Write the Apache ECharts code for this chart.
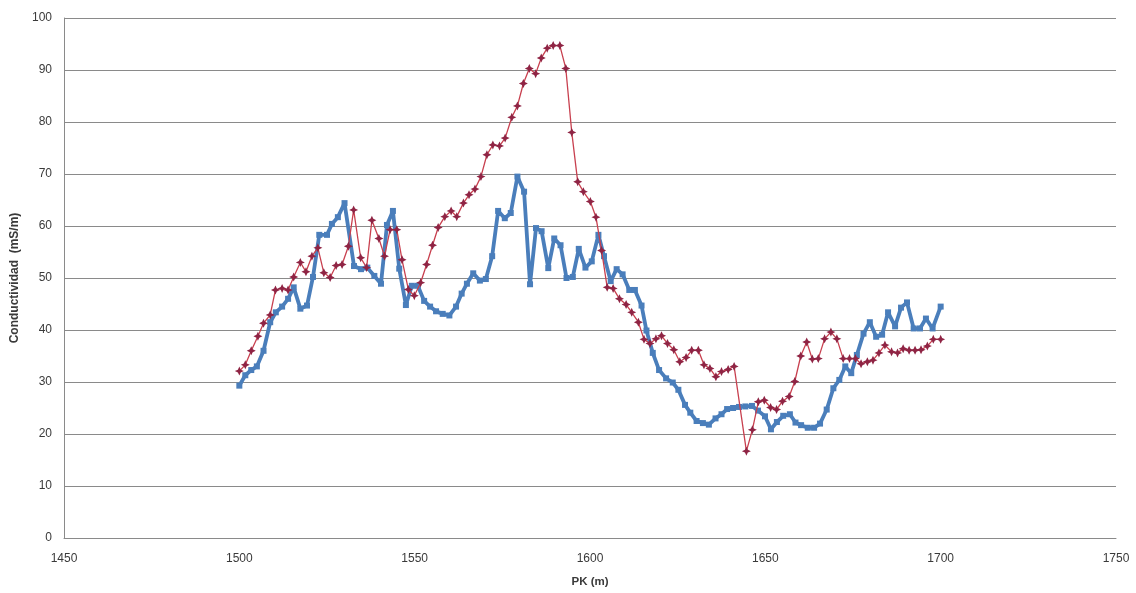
<!DOCTYPE html>
<html>
<head>
<meta charset="utf-8">
<script src="https://cdn.jsdelivr.net/npm/echarts@6/dist/echarts.min.js"></script>
<style>
  html, body { margin: 0; padding: 0; background: #ffffff; }
  #chart { width: 1136px; height: 593px; }
</style>
</head>
<body>
<div id="chart"></div>
<script>
// PK (m) positions and conductivity (mS/m) readings for the two profiles
const pkBlue = [1500.0, 1501.7, 1503.4, 1505.0, 1506.9, 1508.8, 1510.4, 1512.2, 1513.9, 1515.5,
  1517.4, 1519.3, 1521.0, 1522.8, 1525.0, 1526.4, 1528.1, 1530.0, 1532.7, 1534.7,
  1536.5, 1538.5, 1540.4, 1542.1, 1543.8, 1545.6, 1547.5, 1549.2, 1550.9, 1552.7,
  1554.4, 1556.1, 1558.0, 1559.9, 1561.8, 1563.4, 1564.9, 1566.7, 1568.6, 1570.3,
  1572.1, 1573.8, 1575.7, 1577.4, 1579.3, 1581.2, 1582.9, 1584.6, 1586.2, 1588.1,
  1589.8, 1591.6, 1593.3, 1595.1, 1596.8, 1598.7, 1600.5, 1602.4, 1604.0, 1605.9,
  1607.6, 1609.3, 1611.2, 1612.8, 1614.7, 1616.1, 1617.9, 1619.7, 1621.7, 1623.6,
  1625.2, 1627.1, 1628.6, 1630.4, 1632.2, 1633.9, 1635.8, 1637.5, 1639.1, 1640.8,
  1642.5, 1644.3, 1646.2, 1647.9, 1649.9, 1651.6, 1653.3, 1655.1, 1657.0, 1658.6,
  1660.2, 1662.1, 1663.9, 1665.6, 1667.5, 1669.4, 1671.1, 1672.8, 1674.5, 1676.1,
  1678.0, 1679.8, 1681.6, 1683.3, 1685.0, 1687.0, 1688.7, 1690.4, 1692.3, 1694.1,
  1695.8, 1697.7, 1700.0];
const condBlue = [29.3, 31.3, 32.3, 33.0, 36.0, 41.5, 43.4, 44.5, 46.0, 48.2,
  44.1, 44.7, 50.2, 58.3, 58.3, 60.4, 61.7, 64.4, 52.3, 51.7,
  52.0, 50.4, 48.9, 60.2, 62.9, 51.8, 44.8, 48.5, 48.5, 45.6,
  44.5, 43.6, 43.1, 42.8, 44.5, 47.0, 48.9, 50.9, 49.5, 49.8,
  54.2, 62.9, 61.5, 62.5, 69.5, 66.6, 48.8, 59.6, 59.0, 51.9,
  57.6, 56.3, 50.0, 50.2, 55.6, 52.0, 53.2, 58.3, 54.2, 49.4,
  51.7, 50.7, 47.7, 47.7, 44.7, 39.9, 35.6, 32.3, 30.7, 29.9,
  28.5, 25.6, 24.1, 22.5, 22.1, 21.8, 23.0, 23.8, 24.8, 25.0,
  25.2, 25.3, 25.4, 24.5, 23.4, 20.9, 22.3, 23.5, 23.8, 22.2,
  21.7, 21.2, 21.2, 22.0, 24.7, 28.8, 30.4, 33.0, 31.7, 35.2,
  39.3, 41.5, 38.7, 39.1, 43.4, 40.7, 44.3, 45.3, 40.3, 40.3,
  42.2, 40.3, 44.5];

const pkRed = [1500.0, 1501.7, 1503.4, 1505.3, 1506.9, 1508.8, 1510.3, 1512.2, 1513.9, 1515.5,
  1517.4, 1519.0, 1520.7, 1522.4, 1524.1, 1525.9, 1527.6, 1529.3, 1531.1, 1532.6,
  1534.6, 1536.3, 1537.8, 1539.8, 1541.4, 1543.0, 1544.9, 1546.4, 1548.2, 1549.9,
  1551.7, 1553.4, 1555.1, 1556.7, 1558.6, 1560.4, 1562.0, 1563.9, 1565.5, 1567.2,
  1568.9, 1570.6, 1572.3, 1574.2, 1575.8, 1577.7, 1579.3, 1581.0, 1582.7, 1584.5,
  1586.1, 1587.8, 1589.5, 1591.4, 1593.1, 1594.8, 1596.5, 1598.1, 1600.1, 1601.7,
  1603.3, 1604.9, 1606.6, 1608.4, 1610.3, 1611.9, 1613.8, 1615.4, 1617.1, 1618.8,
  1620.4, 1622.1, 1623.9, 1625.6, 1627.4, 1629.0, 1630.9, 1632.5, 1634.2, 1635.9,
  1637.5, 1639.4, 1641.1, 1644.6, 1646.3, 1648.0, 1649.7, 1651.5, 1653.2, 1654.9,
  1656.8, 1658.4, 1660.1, 1661.8, 1663.4, 1665.1, 1666.9, 1668.7, 1670.4, 1672.2,
  1674.0, 1675.7, 1677.3, 1679.1, 1680.7, 1682.4, 1684.1, 1686.0, 1687.7, 1689.3,
  1691.0, 1692.7, 1694.4, 1696.2, 1697.9, 1700.0];
const condRed = [32.1, 33.3, 36.0, 38.8, 41.3, 42.9, 47.7, 48.0, 47.7, 50.2,
  53.0, 51.2, 54.2, 55.8, 51.0, 50.1, 52.4, 52.6, 56.1, 63.1,
  53.9, 52.0, 61.1, 57.6, 54.2, 59.3, 59.3, 53.5, 47.8, 46.6,
  49.1, 52.6, 56.3, 59.7, 61.8, 62.9, 61.8, 64.4, 66.0, 67.1,
  69.5, 73.7, 75.6, 75.4, 76.9, 80.9, 83.1, 87.4, 90.3, 89.3,
  92.3, 94.2, 94.7, 94.7, 90.3, 78.0, 68.5, 66.6, 64.7, 61.7,
  55.3, 48.2, 48.0, 46.0, 44.9, 43.4, 41.5, 38.2, 37.4, 38.3,
  38.9, 37.4, 36.2, 33.9, 34.7, 36.1, 36.1, 33.3, 32.6, 31.0,
  32.0, 32.4, 33.0, 16.7, 20.8, 26.2, 26.5, 25.1, 24.7, 26.3,
  27.2, 30.1, 35.0, 37.7, 34.4, 34.5, 38.3, 39.6, 38.3, 34.5,
  34.5, 34.5, 33.5, 33.9, 34.2, 35.6, 37.1, 35.8, 35.6, 36.4,
  36.1, 36.1, 36.2, 36.9, 38.2, 38.2];

const xTitle = 'PK (m)';
const yTitle = 'Conductividad  (mS/m)';

const pairs = (xs, ys) => xs.map((x, i) => [x, ys[i]]);

const FONT = '"Liberation Sans", "DejaVu Sans", sans-serif';
const GRID_COLOR = '#8a8a8a';
const TEXT_COLOR = '#3a3a3a';

// Asterisk-like star used for the second profile's markers
const starPath = 'path://M0,-5 L1.6,-1.6 L5,0 L1.6,1.6 L0,5 L-1.6,1.6 L-5,0 L-1.6,-1.6 Z';

const chart = echarts.init(document.getElementById('chart'), null, { renderer: 'canvas' });

chart.setOption({
  animation: false,
  backgroundColor: '#ffffff',
  grid: { left: 64, right: 20, top: 18, bottom: 50, containLabel: false },
  xAxis: {
    type: 'value',
    min: 1450,
    max: 1750,
    interval: 50,
    name: xTitle,
    nameLocation: 'middle',
    nameGap: 38,
    nameTextStyle: { fontFamily: FONT, fontSize: 11.5, fontWeight: 'bold', color: TEXT_COLOR },
    axisLine: { show: true, lineStyle: { color: GRID_COLOR, width: 1 } },
    axisTick: { show: false },
    axisLabel: {
      fontFamily: FONT, fontSize: 12, color: TEXT_COLOR, margin: 15,
      formatter: (v) => String(v)
    },
    splitLine: { show: false }
  },
  yAxis: {
    type: 'value',
    min: 0,
    max: 100,
    interval: 10,
    name: yTitle,
    nameLocation: 'middle',
    nameGap: 39,
    nameTextStyle: { fontFamily: FONT, fontSize: 12, fontWeight: 'bold', color: TEXT_COLOR },
    axisLine: { show: true, lineStyle: { color: GRID_COLOR, width: 1 } },
    axisTick: { show: false },
    axisLabel: { fontFamily: FONT, fontSize: 12, color: TEXT_COLOR, margin: 12 },
    splitLine: { show: true, lineStyle: { color: GRID_COLOR, width: 1 } }
  },
  series: [
    {
      name: 'Perfil 1',
      type: 'line',
      data: pairs(pkBlue, condBlue),
      symbol: 'rect',
      symbolSize: 6,
      showAllSymbol: true,
      lineStyle: { color: '#4a7ebb', width: 3.8 },
      itemStyle: { color: '#4a7ebb' },
      z: 2
    },
    {
      name: 'Perfil 2',
      type: 'line',
      data: pairs(pkRed, condRed),
      symbol: starPath,
      symbolSize: 9,
      showAllSymbol: true,
      lineStyle: { color: '#c8404f', width: 1.3 },
      itemStyle: { color: '#8f2444' },
      z: 3
    }
  ]
});
</script>
</body>
</html>
